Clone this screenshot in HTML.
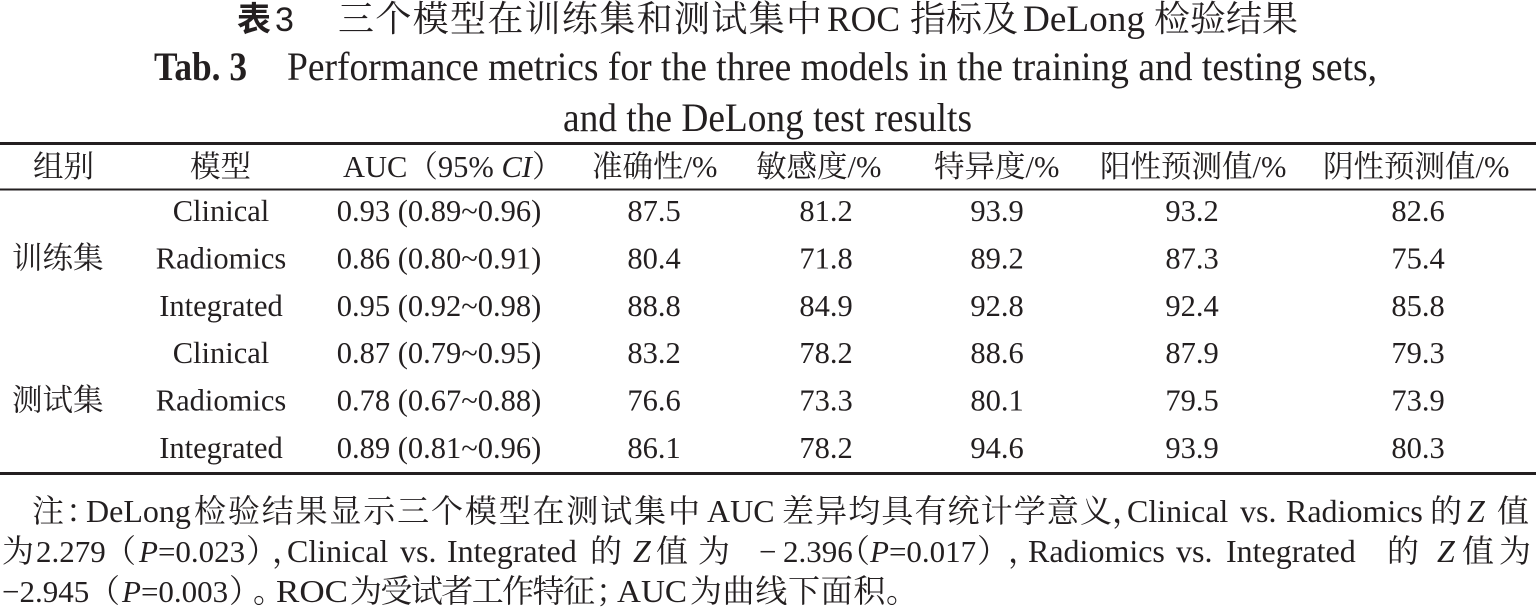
<!DOCTYPE html>
<html>
<head>
<meta charset="utf-8">
<style>
  html, body { margin: 0; padding: 0; background: #ffffff; }
  body { width: 1536px; height: 607px; overflow: hidden; }
  svg { display: block; }
  .s { font-family: "Liberation Serif", "Noto Serif CJK SC", serif; fill: #231f20; }
  .b { font-size: 30.5px; }
  .n { font-size: 32px; }
  .d { font-size: 31px; }
</style>
</head>
<body>
<svg width="1536" height="607" viewBox="0 0 1536 607" xmlns="http://www.w3.org/2000/svg">
  <rect x="0" y="0" width="1536" height="607" fill="#ffffff"/>

  <!-- Title (Chinese) -->
  <text x="237" y="31" font-family="'Noto Sans CJK SC', sans-serif" font-weight="bold" font-size="34" fill="#231f20">表</text>
  <text x="275" y="31" font-family="'Liberation Sans', sans-serif" font-size="34" fill="#231f20">3</text>
  <text class="s" x="338" y="31" font-size="36" textLength="484" lengthAdjust="spacing">三个模型在训练集和测试集中</text>
  <text class="s" x="827" y="31" font-size="36" textLength="73" lengthAdjust="spacingAndGlyphs">ROC</text>
  <text class="s" x="910" y="31" font-size="36">指标及</text>
  <text class="s" x="1023" y="31" font-size="37" textLength="122" lengthAdjust="spacingAndGlyphs">DeLong</text>
  <text class="s" x="1154" y="31" font-size="36">检验结果</text>

  <!-- Title (English) -->
  <text class="s" x="154" y="80" font-size="40" font-weight="bold" textLength="93" lengthAdjust="spacingAndGlyphs">Tab. 3</text>
  <text class="s" x="287" y="80" font-size="40" textLength="1090" lengthAdjust="spacingAndGlyphs">Performance metrics for the three models in the training and testing sets,</text>
  <text class="s" x="563" y="131" font-size="40" textLength="409" lengthAdjust="spacingAndGlyphs">and the DeLong test results</text>

  <!-- Rules -->
  <rect x="0" y="142" width="1536" height="3" fill="#231f20"/>
  <rect x="0" y="188.5" width="1536" height="2" fill="#231f20"/>
  <rect x="0" y="472" width="1536" height="3" fill="#231f20"/>

  <!-- Header -->
  <text class="s b" x="33" y="177">组别</text>
  <text class="s b" x="190" y="177">模型</text>
  <text class="s b" x="343" y="177">AUC（95% <tspan font-style="italic">CI</tspan>）</text>
  <text class="s b" x="592" y="177">准确性/%</text>
  <text class="s b" x="756" y="177">敏感度/%</text>
  <text class="s b" x="934" y="177">特异度/%</text>
  <text class="s b" x="1100" y="177">阳性预测值/%</text>
  <text class="s b" x="1323" y="177">阴性预测值/%</text>

  <!-- Group labels -->
  <text class="s b" x="12" y="268.5">训练集</text>
  <text class="s b" x="12" y="410.5">测试集</text>

  <!-- Rows -->
  <g class="s b" text-anchor="middle">
    <text x="221" y="221">Clinical</text>
    <text x="439" y="221">0.93 (0.89~0.96)</text>
    <text x="654" y="221">87.5</text>
    <text x="826" y="221">81.2</text>
    <text x="997" y="221">93.9</text>
    <text x="1192" y="221">93.2</text>
    <text x="1418" y="221">82.6</text>

    <text x="221" y="268.5">Radiomics</text>
    <text x="439" y="268.5">0.86 (0.80~0.91)</text>
    <text x="654" y="268.5">80.4</text>
    <text x="826" y="268.5">71.8</text>
    <text x="997" y="268.5">89.2</text>
    <text x="1192" y="268.5">87.3</text>
    <text x="1418" y="268.5">75.4</text>

    <text x="221" y="316">Integrated</text>
    <text x="439" y="316">0.95 (0.92~0.98)</text>
    <text x="654" y="316">88.8</text>
    <text x="826" y="316">84.9</text>
    <text x="997" y="316">92.8</text>
    <text x="1192" y="316">92.4</text>
    <text x="1418" y="316">85.8</text>

    <text x="221" y="363">Clinical</text>
    <text x="439" y="363">0.87 (0.79~0.95)</text>
    <text x="654" y="363">83.2</text>
    <text x="826" y="363">78.2</text>
    <text x="997" y="363">88.6</text>
    <text x="1192" y="363">87.9</text>
    <text x="1418" y="363">79.3</text>

    <text x="221" y="410.5">Radiomics</text>
    <text x="439" y="410.5">0.78 (0.67~0.88)</text>
    <text x="654" y="410.5">76.6</text>
    <text x="826" y="410.5">73.3</text>
    <text x="997" y="410.5">80.1</text>
    <text x="1192" y="410.5">79.5</text>
    <text x="1418" y="410.5">73.9</text>

    <text x="221" y="458">Integrated</text>
    <text x="439" y="458">0.89 (0.81~0.96)</text>
    <text x="654" y="458">86.1</text>
    <text x="826" y="458">78.2</text>
    <text x="997" y="458">94.6</text>
    <text x="1192" y="458">93.9</text>
    <text x="1418" y="458">80.3</text>
  </g>

  <!-- Notes line 1 -->
  <text class="s n" x="32" y="522">注</text>
  <text class="s n" x="66" y="522">：</text>
  <text class="s n" x="86" y="522">DeLong</text>
  <text class="s n" x="194" y="522" textLength="506" lengthAdjust="spacing">检验结果显示三个模型在测试集中</text>
  <text class="s n" x="707" y="522">AUC</text>
  <text class="s n" x="782" y="522" textLength="330" lengthAdjust="spacing">差异均具有统计学意义</text>
  <text class="s n" x="1112" y="522">，</text>
  <text class="s n" x="1127" y="522">Clinical</text>
  <text class="s n" x="1240" y="522">vs.</text>
  <text class="s n" x="1286" y="522">Radiomics</text>
  <text class="s n" x="1430" y="522">的</text>
  <text class="s n" x="1467" y="522" font-style="italic">Z</text>
  <text class="s n" x="1497" y="522">值</text>

  <!-- Notes line 2 -->
  <text class="s n" x="2" y="562">为</text>
  <text class="s d" x="36" y="562">2.279</text>
  <text class="s n" x="104" y="562">（</text>
  <text class="s d" x="139" y="562"><tspan font-style="italic">P</tspan>=0.023</text>
  <text class="s n" x="246" y="562">）</text>
  <text class="s n" x="272" y="562">，</text>
  <text class="s n" x="287" y="562">Clinical</text>
  <text class="s n" x="400" y="562">vs.</text>
  <text class="s n" x="447" y="562">Integrated</text>
  <text class="s n" x="590" y="562">的</text>
  <text class="s n" x="633" y="562" font-style="italic">Z</text>
  <text class="s n" x="656" y="562">值</text>
  <text class="s n" x="698" y="562">为</text>
  <text class="s d" x="759" y="562">−</text>
  <text class="s d" x="783" y="562">2.396</text>
  <text class="s n" x="838" y="562">（</text>
  <text class="s d" x="870" y="562"><tspan font-style="italic">P</tspan>=0.017</text>
  <text class="s n" x="977" y="562">）</text>
  <text class="s n" x="1008" y="562">，</text>
  <text class="s n" x="1028" y="562">Radiomics</text>
  <text class="s n" x="1176" y="562">vs.</text>
  <text class="s n" x="1226" y="562">Integrated</text>
  <text class="s n" x="1387" y="562">的</text>
  <text class="s n" x="1437" y="562" font-style="italic">Z</text>
  <text class="s n" x="1462" y="562">值</text>
  <text class="s n" x="1499" y="562">为</text>

  <!-- Notes line 3 -->
  <text class="s d" x="2" y="602">−2.945</text>
  <text class="s n" x="88" y="602">（</text>
  <text class="s d" x="122" y="602"><tspan font-style="italic">P</tspan>=0.003</text>
  <text class="s n" x="229" y="602">）</text>
  <text class="s n" x="253" y="602">。</text>
  <text class="s n" x="276" y="602" textLength="72" lengthAdjust="spacingAndGlyphs">ROC</text>
  <text class="s n" x="350" y="602" textLength="245" lengthAdjust="spacing">为受试者工作特征</text>
  <text class="s n" x="596" y="602">；</text>
  <text class="s n" x="617" y="602" textLength="70" lengthAdjust="spacingAndGlyphs">AUC</text>
  <text class="s n" x="690" y="602" textLength="228" lengthAdjust="spacing">为曲线下面积。</text>
</svg>
</body>
</html>
